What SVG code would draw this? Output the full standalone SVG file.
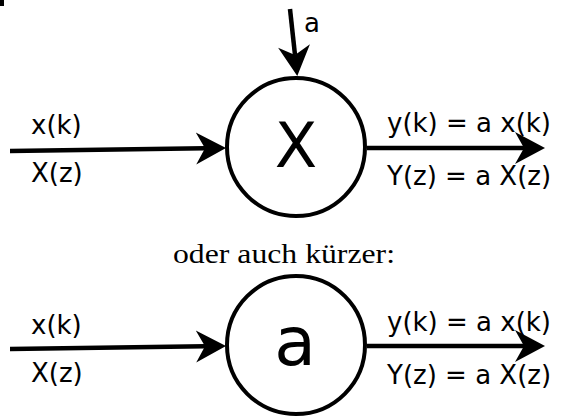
<svg xmlns="http://www.w3.org/2000/svg" width="561" height="416" viewBox="0 0 561 416">
<style>
.lbl{font-family:"DejaVu Sans",sans-serif;font-size:26px;fill:#000}
.big{font-family:"DejaVu Sans",sans-serif;fill:#000;text-anchor:middle}
.ser{font-family:"Liberation Serif",serif;font-size:27px;fill:#000}
.edge{stroke:#000;stroke-width:4.5;fill:none;marker-end:url(#ah)}
.node{fill:#fff;stroke:#000;stroke-width:4}
</style>
<defs>
<marker id="ah" markerUnits="userSpaceOnUse" viewBox="-31 -17 32 34" markerWidth="32" markerHeight="34" refX="-21" refY="0" orient="auto" overflow="visible">
<path d="M0,0 L-30,-16 L-21,0 L-30,16 Z" fill="#000"/>
</marker>
</defs>
<rect x="0" y="0" width="4" height="6" fill="#000"/>
<g id="connectors">
<line class="edge" x1="290" y1="9" x2="295" y2="55"/>
<line class="edge" x1="10" y1="151" x2="205" y2="148.3"/>
<line class="edge" x1="367" y1="148" x2="524" y2="148"/>
<line class="edge" x1="10" y1="349" x2="205" y2="346.3"/>
<line class="edge" x1="367" y1="346" x2="524" y2="346"/>
</g>
<g id="mult1">
<circle class="node" cx="296" cy="147" r="69"/>
<text class="big" x="296" y="167" font-size="62">X</text>
</g>
<g id="mult2">
<circle class="node" cx="296" cy="345" r="69"/>
<text class="big" x="295" y="365" font-size="68">a</text>
</g>
<g id="labels">
<text class="lbl" x="304" y="32">a</text>
<text class="lbl" x="31" y="134">x(k)</text>
<text class="lbl" x="31" y="182">X(z)</text>
<text class="lbl" x="387" y="132">y(k) = a x(k)</text>
<text class="lbl" x="387" y="185">Y(z) = a X(z)</text>
<text class="ser" x="173" y="263" textLength="222" lengthAdjust="spacingAndGlyphs">oder auch kürzer:</text>
<text class="lbl" x="31" y="334">x(k)</text>
<text class="lbl" x="31" y="382">X(z)</text>
<text class="lbl" x="387" y="331">y(k) = a x(k)</text>
<text class="lbl" x="387" y="384">Y(z) = a X(z)</text>
</g>
</svg>
